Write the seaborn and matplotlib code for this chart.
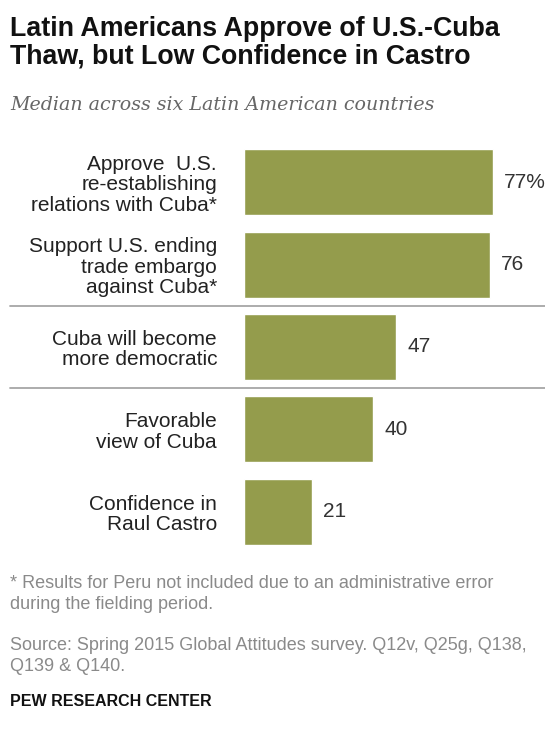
import matplotlib
matplotlib.use("Agg")
import matplotlib.pyplot as plt
import seaborn as sns
import pandas as pd
from matplotlib.transforms import blended_transform_factory

# ---- data ----
categories = [
    "Approve  U.S.\nre-establishing\nrelations with Cuba*",
    "Support U.S. ending\ntrade embargo\nagainst Cuba*",
    "Cuba will become\nmore democratic",
    "Favorable\nview of Cuba",
    "Confidence in\nRaul Castro",
]
values = [77, 76, 47, 40, 21]
value_labels = ["77%", "76", "47", "40", "21"]
separators_after = [1, 2]  # index of bar after which a rule is drawn

title_lines = ["Latin Americans Approve of U.S.-Cuba",
               "Thaw, but Low Confidence in Castro"]
subtitle = "Median across six Latin American countries"
footnote_lines = ["* Results for Peru not included due to an administrative error",
                  "during the fielding period."]
source_lines = ["Source: Spring 2015 Global Attitudes survey. Q12v, Q25g, Q138,",
                "Q139 & Q140."]
credit = "PEW RESEARCH CENTER"

# ---- style ----
sns.set_theme(style="white")
plt.rcParams["font.family"] = ["Liberation Sans", "DejaVu Sans"]

W, H = 545, 733
fig = plt.figure(figsize=(W / 100, H / 100), dpi=100)
fig.patch.set_facecolor("white")

ax_left, ax_right = 244, 545
ax_top, ax_bottom = 141, 553
ax = fig.add_axes([ax_left / W, 1 - ax_bottom / H,
                   (ax_right - ax_left) / W, (ax_bottom - ax_top) / H])

df = pd.DataFrame({"category": categories, "value": values})
sns.barplot(data=df, x="value", y="category", color="#949c4c",
            saturation=1, width=0.8, ax=ax, orient="h")

ax.set_xlim(0, 93.1)
ax.set_ylim(len(categories) - 0.5, -0.5)
for s in ax.spines.values():
    s.set_visible(False)
ax.xaxis.set_visible(False)
ax.set_ylabel("")
ax.tick_params(axis="y", length=0, pad=19.4, labelsize=15, labelcolor="#222222")
for t in ax.get_yticklabels():
    t.set_linespacing(1.1)
    t.set_multialignment("right")

ax.bar_label(ax.containers[0], labels=value_labels, padding=8,
             fontsize=15, color="#333333")

trans = blended_transform_factory(fig.transFigure, ax.transData)
for i in separators_after:
    ax.plot([10 / W, 1], [i + 0.5, i + 0.5], transform=trans, clip_on=False,
            color="#a6a6a6", lw=1.3)

# ---- texts ----
x0 = 10 / W
fig.text(x0, 1 - 36 / H, title_lines[0], fontsize=19.3, weight="bold",
         color="#111111", va="baseline", ha="left")
fig.text(x0, 1 - 63 / H, title_lines[1], fontsize=19.3, weight="bold",
         color="#111111", va="baseline", ha="left")
fig.text(x0, 1 - 110 / H, subtitle, fontsize=13.7, style="italic",
         family=["DejaVu Serif"], color="#666666", va="baseline", ha="left")

for line, yb in zip(footnote_lines, [588, 609]):
    fig.text(x0, 1 - yb / H, line, fontsize=13, color="#8a8a8a",
             va="baseline", ha="left")
for line, yb in zip(source_lines, [650, 671]):
    fig.text(x0, 1 - yb / H, line, fontsize=13, color="#8a8a8a",
             va="baseline", ha="left")
fig.text(x0, 1 - 706 / H, credit, fontsize=11.5, weight="bold",
         color="#111111", va="baseline", ha="left")

fig.savefig("out.png", dpi=100, facecolor="white")
